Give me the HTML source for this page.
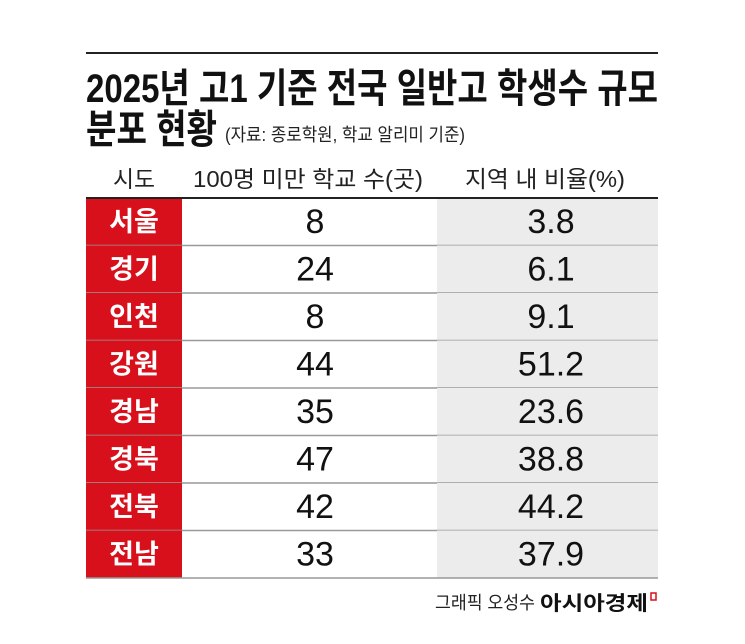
<!DOCTYPE html>
<html><head><meta charset="utf-8"><style>
body{margin:0;background:#fff;width:745px;height:639px;overflow:hidden}
svg text{font-family:"Liberation Sans","Noto Sans CJK KR",sans-serif}
svg text.num{font-family:"Liberation Sans Narrow","Liberation Sans",sans-serif}
</style></head><body>
<svg id="chart" width="745" height="639" xmlns="http://www.w3.org/2000/svg">
<line x1="86" y1="53" x2="658" y2="53" stroke="#222" stroke-width="2"/>
<text x="86" y="102" font-size="40" font-weight="bold" fill="#111" textLength="572" lengthAdjust="spacingAndGlyphs">2025년 고1 기준 전국 일반고 학생수 규모</text>
<text x="86" y="143" font-size="40" font-weight="bold" fill="#111" textLength="131" lengthAdjust="spacingAndGlyphs">분포 현황</text>
<text x="225" y="141" font-size="18" fill="#222" textLength="240" lengthAdjust="spacingAndGlyphs">(자료: 종로학원, 학교 알리미 기준)</text>
<text x="134" y="187" font-size="23" fill="#222" text-anchor="middle" textLength="42" lengthAdjust="spacingAndGlyphs">시도</text>
<text x="308" y="187" font-size="23" fill="#222" text-anchor="middle" textLength="230" lengthAdjust="spacingAndGlyphs">100명 미만 학교 수(곳)</text>
<text x="545" y="187" font-size="23" fill="#222" text-anchor="middle" textLength="160" lengthAdjust="spacingAndGlyphs">지역 내 비율(%)</text>
<g id="rows"></g>
<line x1="86" y1="198" x2="658" y2="198" stroke="#222" stroke-width="2"/>
<text x="435" y="609" font-size="18" fill="#222" textLength="100" lengthAdjust="spacingAndGlyphs">그래픽 오성수</text>
<text x="540" y="610" font-size="20" font-weight="bold" fill="#111" textLength="108" lengthAdjust="spacingAndGlyphs">아시아경제</text>
<rect x="651" y="593" width="5" height="7" fill="none" stroke="#d7101b" stroke-width="1.5"/>
</svg>
<script>
const regions=["서울","경기","인천","강원","경남","경북","전북","전남"];
const counts=["8","24","8","44","35","47","42","33"];
const ratios=["3.8","6.1","9.1","51.2","23.6","38.8","44.2","37.9"];
const NS="http://www.w3.org/2000/svg";
const g=document.getElementById('rows');
const top0=198,rowH=47.5;
function mk(tag,attrs){const e=document.createElementNS(NS,tag);for(const k in attrs)e.setAttribute(k,attrs[k]);g.appendChild(e);return e;}
regions.forEach((r,i)=>{
  const y=top0+i*rowH;
  const bg=mk('rect',{x:437,y:y,width:221,height:rowH,fill:'#ececec'});
  
  
  const red=mk('rect',{x:86,y:y,width:96,height:rowH,fill:'#d7101b'});
  
  
  const t1=mk('text',{x:134,y:y+33,'font-size':27,'font-weight':'bold',fill:'#fff','text-anchor':'middle'});
  t1.textContent=r;
  
  
  const t2=mk('text',{x:315,y:y+35,'font-size':34,fill:'#111','text-anchor':'middle','class':'num'});
  t2.textContent=counts[i];
  
  
  const t3=mk('text',{x:551,y:y+35,'font-size':34,fill:'#111','text-anchor':'middle','class':'num'});
  t3.textContent=ratios[i];
  
  
  const ln=mk('line',{x1:86,x2:658,y1:y+rowH,y2:y+rowH,stroke:'#999','stroke-width':1.5});
  
  
});
</script>
</body></html>
